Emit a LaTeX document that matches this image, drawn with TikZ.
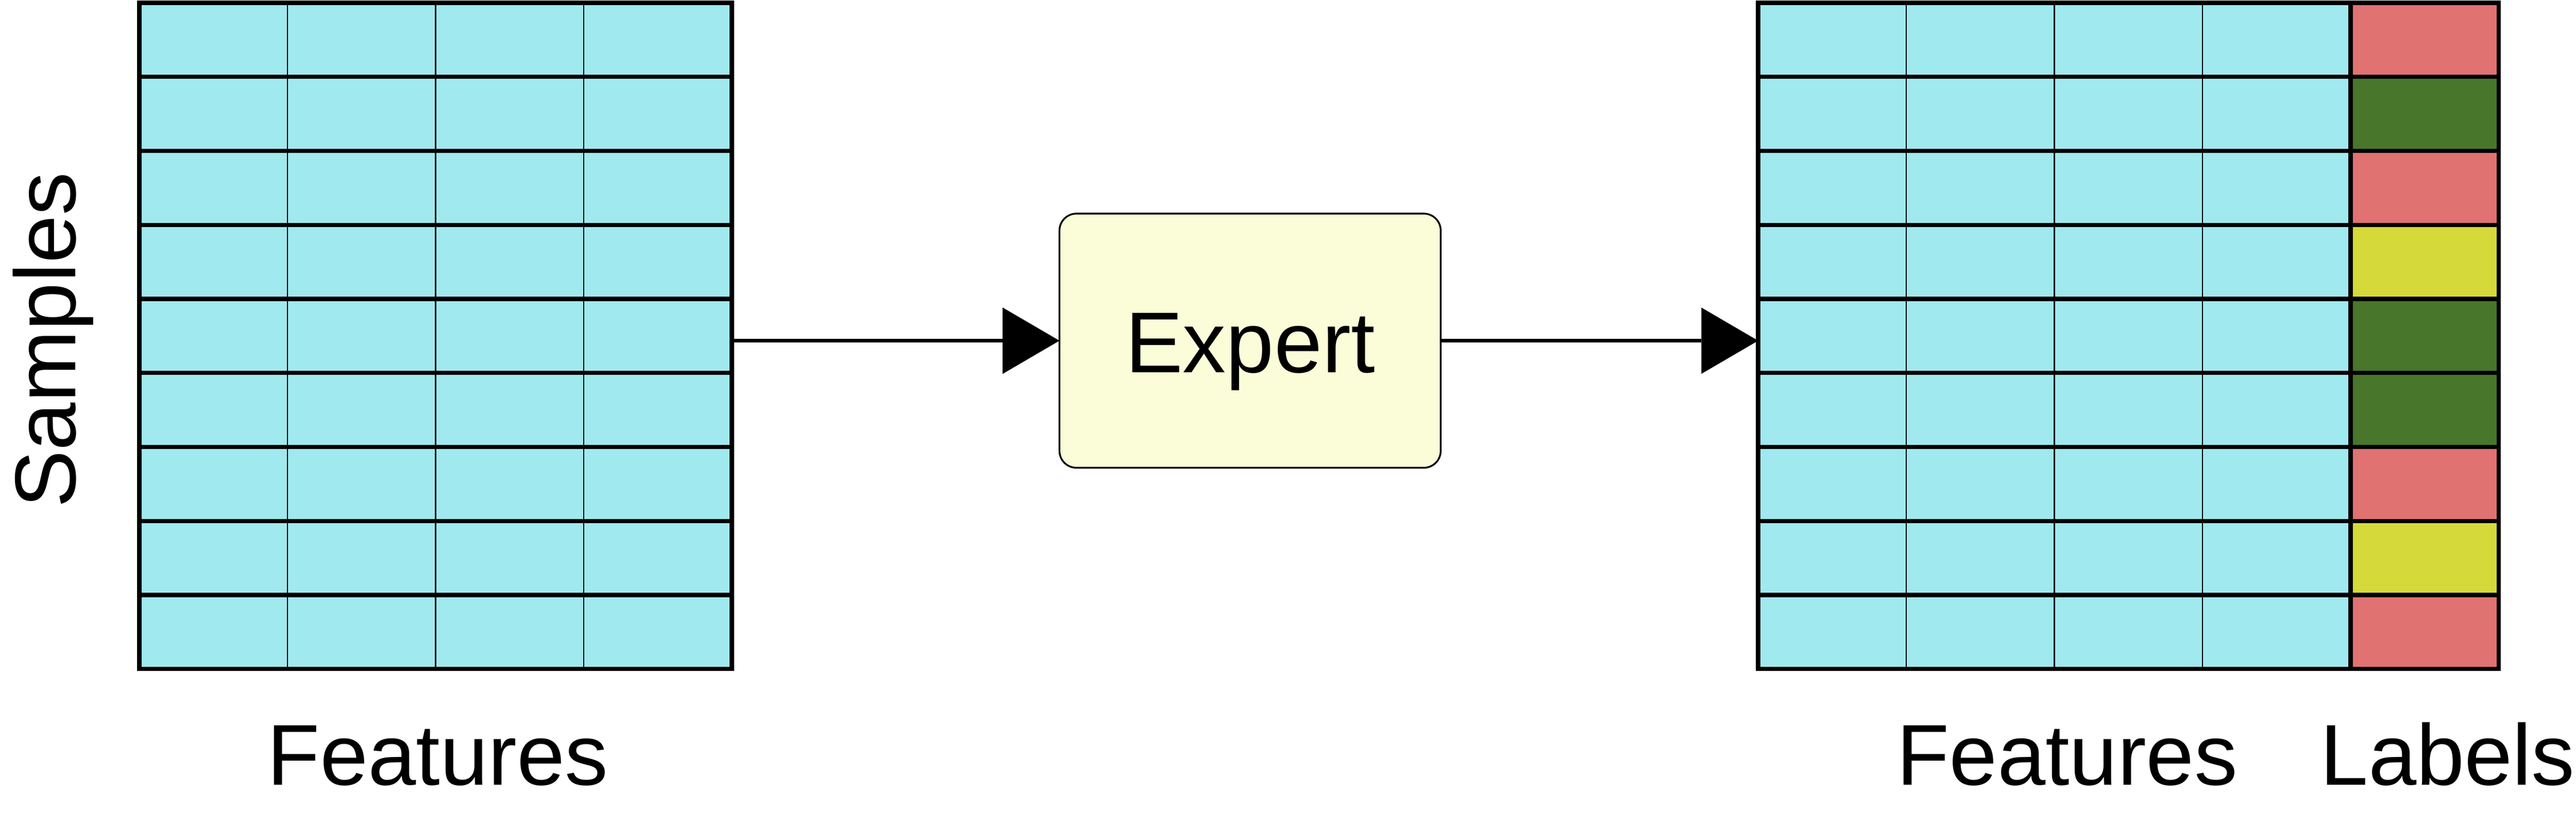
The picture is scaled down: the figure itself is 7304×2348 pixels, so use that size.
\documentclass[tikz,border=0pt]{standalone}
\usepackage{fontspec}
\setmainfont{Liberation Sans}
\usetikzlibrary{arrows.meta}
\definecolor{cellc}{HTML}{A0E9EF}
\definecolor{labred}{HTML}{E07272}
\definecolor{labgreen}{HTML}{48762A}
\definecolor{labyellow}{HTML}{D5D93A}
\definecolor{expfill}{HTML}{FBFDD8}
\begin{document}
\begin{tikzpicture}[x=0.1pt,y=-0.1pt,
  thickline/.style={line width=1.2pt},
  thinline/.style={line width=0.4pt},
  lbl/.style={font=\fontsize{24.5pt}{29pt}\selectfont, inner sep=0pt, anchor=base},
  arr/.style={line width=1.1pt, -{Triangle[length=16.1pt,width=18.8pt,line width=0pt]}},
  gridnode/.style={inner sep=0pt, outer sep=0pt, minimum height=189pt},
  expertbox/.style={draw, line width=0.5pt, fill=expfill, rounded corners=4.8pt,
    minimum width=108.1pt, minimum height=72.1pt, inner sep=0pt, outer sep=0pt,
    text height=18pt, text depth=0pt, font=\fontsize{24.5pt}{29pt}\selectfont}
  ]
\useasboundingbox (0,0) rectangle (7304,2348);

% ---- left grid ----
\node[gridnode, minimum width=168pt] (L) at (1235,953) {};
\fill[cellc] (395,8) rectangle (2075,1898);
\foreach \i in {1,2,3} \draw[thinline] (395+420*\i,8) -- (395+420*\i,1898);
\foreach \j in {1,...,8} \draw[thickline] (395,8+210*\j) -- (2075,8+210*\j);
\draw[thickline] (395,8) rectangle (2075,1898);

% ---- expert ----
\node[expertbox] (E) at (3544.5,966.5) {Expert};

% ---- right grid ----
\node[gridnode, minimum width=210pt] (R) at (6035,953) {};
\fill[cellc] (4985,8) rectangle (6665,1898);
\foreach \c [count=\k from 0] in {labred,labgreen,labred,labyellow,labgreen,labgreen,labred,labyellow,labred}
  \fill[\c] (6665,8+210*\k) rectangle (7085,218+210*\k);
\foreach \i in {1,2,3} \draw[thinline] (4985+420*\i,8) -- (4985+420*\i,1898);
\foreach \j in {1,...,8} \draw[thickline] (4985,8+210*\j) -- (7085,8+210*\j);
\draw[thickline] (6665,8) -- (6665,1898);
\draw[thickline] (4985,8) rectangle (7085,1898);

% ---- connectors ----
\draw[arr] (E.west -| L.east) -- (E.west);
\draw[arr] (E.east) -- (E.east -| R.west);

% ---- texts ----
\node[lbl, rotate=90] (S) at (214,965) {Samples};
\node[lbl] (FL) at (1241,2227) {Features};
\node[lbl] (FR) at (5861,2227) {Features};
\node[lbl] (LB) at (6940,2227) {Labels};
\end{tikzpicture}
\end{document}
